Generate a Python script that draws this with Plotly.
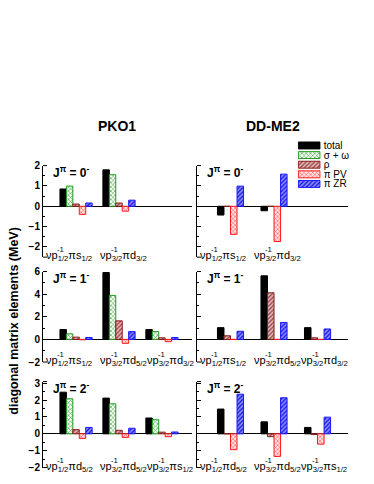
import plotly.graph_objects as go

W, H = 374, 484
FONT = "Liberation Sans, Arial, sans-serif"

# ---------------- data ----------------
models = ["PKO1", "DD-ME2"]
series_pko1 = ["total", "σ + ω", "ρ", "π PV", "π ZR"]
series_ddme2 = ["total", "ρ", "π PV", "π ZR"]
legend_names = ["total", "σ + ω", "ρ", "π PV", "π ZR"]

j_labels = ["J<sup>π</sup> = 0<sup>-</sup>",
            "J<sup>π</sup> = 1<sup>-</sup>",
            "J<sup>π</sup> = 2<sup>-</sup>"]

# configurations: (neutron hole j, proton orbital, proton j)
configs_j0 = [("1/2", "s", "1/2"), ("3/2", "d", "3/2")]
configs_j1 = [("1/2", "s", "1/2"), ("3/2", "d", "5/2"), ("3/2", "d", "3/2")]
configs_j2 = [("1/2", "d", "5/2"), ("3/2", "d", "5/2"), ("3/2", "s", "1/2")]

# PKO1 values (MeV): total, sigma+omega, rho, pi PV, pi ZR
pko1_j0_total = [0.85, 1.79]
pko1_j0_sw = [0.99, 1.55]
pko1_j0_rho = [0.11, 0.16]
pko1_j0_pv = [-0.40, -0.24]
pko1_j0_zr = [0.16, 0.30]

pko1_j1_total = [0.87, 5.91, 0.87]
pko1_j1_sw = [0.49, 3.89, 0.69]
pko1_j1_rho = [0.20, 1.64, 0.14]
pko1_j1_pv = [-0.03, -0.35, -0.20]
pko1_j1_zr = [0.17, 0.69, 0.17]

pko1_j2_total = [2.47, 2.12, 0.94]
pko1_j2_sw = [2.08, 1.78, 0.84]
pko1_j2_rho = [0.25, 0.21, 0.10]
pko1_j2_pv = [-0.27, -0.21, -0.17]
pko1_j2_zr = [0.38, 0.33, 0.11]

# DD-ME2 values (MeV): total, rho, pi PV, pi ZR
ddme2_j0_total = [-0.43, -0.22]
ddme2_j0_rho = [0.0, 0.0]
ddme2_j0_pv = [-1.38, -1.73]
ddme2_j0_zr = [0.99, 1.58]

ddme2_j1_total = [1.04, 5.62, 1.04]
ddme2_j1_rho = [0.32, 4.12, 0.14]
ddme2_j1_pv = [0.0, 0.0, 0.0]
ddme2_j1_zr = [0.72, 1.50, 0.92]

ddme2_j2_total = [1.47, 0.71, 0.38]
ddme2_j2_rho = [0.0, -0.17, -0.04]
ddme2_j2_pv = [-0.94, -1.34, -0.61]
ddme2_j2_zr = [2.35, 2.14, 0.99]

y_ranges = [[-2.5, 2.0], [-2.0, 6.0], [-2.0, 3.1]]
y_dticks = [1, 2, 1]

# ---------------- styles ----------------
styles = {
    "total": dict(color="black", line=dict(color="black", width=1)),
    "σ + ω": dict(line=dict(color="#1f9a1f", width=1),
                  pattern=dict(shape="x", fgcolor="#2aa02a", bgcolor="#ffffff",
                               size=3, solidity=0.35, fillmode="replace")),
    "ρ": dict(line=dict(color="#8a1c1c", width=1),
              pattern=dict(shape="/", fgcolor="#9a3a3a", bgcolor="#e0b8b8",
                           size=3, solidity=0.4, fillmode="replace")),
    "π PV": dict(line=dict(color="#ff1a1a", width=1),
                 pattern=dict(shape="x", fgcolor="#ff5050", bgcolor="#ffe4e4",
                              size=3, solidity=0.35, fillmode="replace")),
    "π ZR": dict(line=dict(color="#1a1aff", width=1),
                 pattern=dict(shape="/", fgcolor="#1010e0", bgcolor="#8a8aff",
                              size=3, solidity=0.4, fillmode="replace")),
}

panels = [
    (0, 0, configs_j0, series_pko1,
     [pko1_j0_total, pko1_j0_sw, pko1_j0_rho, pko1_j0_pv, pko1_j0_zr]),
    (0, 1, configs_j0, series_ddme2,
     [ddme2_j0_total, ddme2_j0_rho, ddme2_j0_pv, ddme2_j0_zr]),
    (1, 0, configs_j1, series_pko1,
     [pko1_j1_total, pko1_j1_sw, pko1_j1_rho, pko1_j1_pv, pko1_j1_zr]),
    (1, 1, configs_j1, series_ddme2,
     [ddme2_j1_total, ddme2_j1_rho, ddme2_j1_pv, ddme2_j1_zr]),
    (2, 0, configs_j2, series_pko1,
     [pko1_j2_total, pko1_j2_sw, pko1_j2_rho, pko1_j2_pv, pko1_j2_zr]),
    (2, 1, configs_j2, series_ddme2,
     [ddme2_j2_total, ddme2_j2_rho, ddme2_j2_pv, ddme2_j2_zr]),
]

# ---------------- layout geometry (pixels) ----------------
col_px = [(43, 192), (197, 348)]
row_px = [(163.3, 257.0), (271.7, 364.3), (384.3, 472.3)]
X_RANGE = [-0.77, 2.70]
BAR_W = 0.15
label_left_px = [1, 55, 102]


def xdom(a, b):
    return [a / W, b / W]


def ydom(top, bot):
    return [1 - bot / H, 1 - top / H]


fig = go.Figure()
layout = dict(
    width=W, height=H, autosize=False,
    margin=dict(l=0, r=0, t=0, b=0),
    paper_bgcolor="white", plot_bgcolor="rgba(0,0,0,0)",
    barmode="overlay", showlegend=False,
    font=dict(family=FONT, color="black"),
)
annotations = []
shapes = []

for (r, c, configs, names, values) in panels:
    n = r * 2 + c + 1
    xa = "x" if n == 1 else f"x{n}"
    ya = "y" if n == 1 else f"y{n}"
    xkey = "xaxis" if n == 1 else f"xaxis{n}"
    ykey = "yaxis" if n == 1 else f"yaxis{n}"
    k = len(names)
    for i, (name, vals) in enumerate(zip(names, values)):
        off = (i - k / 2) * BAR_W
        fig.add_trace(go.Bar(
            x=list(range(len(vals))), y=vals, name=name,
            width=BAR_W, offset=off,
            marker=styles[name], xaxis=xa, yaxis=ya,
            showlegend=False, hoverinfo="skip",
        ))
    layout[xkey] = dict(domain=xdom(*col_px[c]), range=X_RANGE, anchor=ya,
                        showline=False, showgrid=False, zeroline=False,
                        showticklabels=False, ticks="")
    layout[ykey] = dict(domain=ydom(*row_px[r]), range=y_ranges[r], anchor=xa,
                        showline=True, linecolor="black", linewidth=1,
                        showgrid=False, zeroline=True, zerolinecolor="black",
                        zerolinewidth=1,
                        ticks="inside", ticklen=4, tickwidth=1, tickcolor="black",
                        dtick=y_dticks[r], tick0=0,
                        minor=dict(ticks="inside", ticklen=2, dtick=y_dticks[r] / 2,
                                   tick0=0, tickcolor="black"),
                        showticklabels=(c == 0),
                        tickfont=dict(size=10, family=FONT, weight="bold"))
    for yv in (0, 1):
        shapes.append(dict(type="line", xref=f"{xa} domain", yref=f"{ya} domain",
                           x0=0, x1=4 / (col_px[c][1] - col_px[c][0]), y0=yv, y1=yv,
                           line=dict(color="black", width=1)))
    annotations.append(dict(text=j_labels[r], xref=f"{xa} domain", yref=f"{ya} domain",
                            x=0, y=1, xanchor="left", yanchor="top", xshift=8, yshift=4,
                            showarrow=False,
                            font=dict(size=12, family=FONT, weight="bold")))
    for g, (jh, orb, jp) in enumerate(configs):
        txt = f"νp<sub>{jh}</sub>π{orb}<sub>{jp}</sub>"
        annotations.append(dict(text=txt, xref=f"{xa} domain", yref=f"{ya} domain",
                                x=0, y=0, xanchor="left", yanchor="bottom",
                                xshift=label_left_px[g], yshift=-8,
                                showarrow=False, font=dict(size=11, family=FONT)))
        annotations.append(dict(text="-1", xref=f"{xa} domain", yref=f"{ya} domain",
                                x=0, y=0, xanchor="left", yanchor="bottom",
                                xshift=label_left_px[g] + 10.5, yshift=1,
                                showarrow=False, font=dict(size=7.7, family=FONT)))

for c, m in enumerate(models):
    annotations.append(dict(text=m, xref="paper", yref="paper",
                            x=(col_px[c][0] + col_px[c][1]) / 2 / W, y=1 - 123 / H,
                            xanchor="center", yanchor="middle", showarrow=False,
                            font=dict(size=14, family=FONT, weight="bold")))

annotations.append(dict(text="diagonal matrix elements (MeV)", xref="paper", yref="paper",
                        x=14 / W, y=1 - 322 / H, xanchor="center", yanchor="middle",
                        textangle=-90, showarrow=False,
                        font=dict(size=12.5, family=FONT, weight="bold")))

for i, name in enumerate(legend_names):
    fig.add_trace(go.Bar(x=[1], y=[i], base=0, orientation="h", width=0.72,
                         marker=styles[name], xaxis="x7", yaxis="y7",
                         showlegend=False, hoverinfo="skip"))
layout["xaxis7"] = dict(domain=xdom(297.7, 320.7), range=[-0.03, 1.03], anchor="y7",
                        visible=False)
layout["yaxis7"] = dict(domain=ydom(137.8, 187.0), range=[4.5, -0.5], anchor="x7",
                        side="right", showline=False, showgrid=False, zeroline=False,
                        ticks="", tickvals=list(range(len(legend_names))),
                        ticktext=legend_names, ticklabelstandoff=2,
                        tickfont=dict(size=10, family=FONT))

layout["annotations"] = annotations
layout["shapes"] = shapes
fig.update_layout(**layout)
fig.write_html("out.html", config={"displayModeBar": False},
               post_script="document.body.style.margin='0px';document.body.style.overflow='hidden';")
